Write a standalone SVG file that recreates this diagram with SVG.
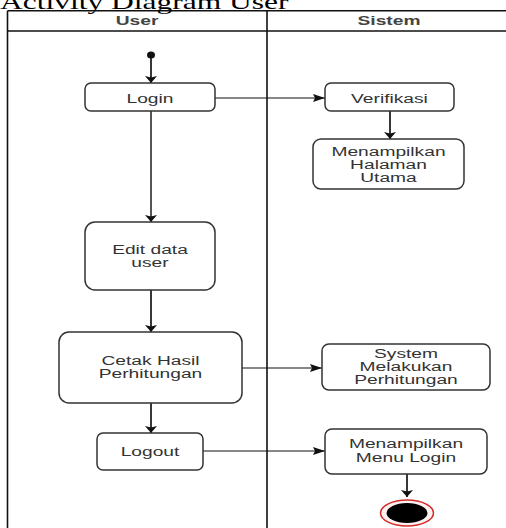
<svg xmlns="http://www.w3.org/2000/svg" width="506" height="528" viewBox="0 0 506 528">
<style>
.lane{stroke:#111;stroke-width:1.6;fill:none}
.box{fill:#fff;stroke:#333;stroke-width:1.5}
.lbl{font-family:"Liberation Sans",Arial,sans-serif;font-size:12px;fill:#333;text-anchor:middle}
.hdr{font-family:"Liberation Sans",Arial,sans-serif;font-size:12px;font-weight:bold;fill:#444;text-anchor:middle}
.title{font-family:"Liberation Serif","Times New Roman",serif;font-size:21px;fill:#000}
.edge{stroke:#111;stroke-width:1.2;fill:none}
.edgeV{stroke:#222;stroke-width:1.8;fill:none}
</style>
<defs>
<marker id="arrowH" markerUnits="userSpaceOnUse" markerWidth="13" markerHeight="9" refX="12" refY="4" orient="auto">
<path d="M0,0 L12,4 L0,8 L2,4 Z" fill="#111"/>
</marker>
<marker id="arrowV" markerUnits="userSpaceOnUse" markerWidth="8" markerHeight="13" refX="7" refY="6" orient="auto">
<path d="M0,0 L7,6 L0,12 L1.5,6 Z" fill="#111"/>
</marker>
</defs>
<rect width="506" height="528" fill="#fff"/>
<text class="title" transform="translate(0,9) scale(1.5,1)">Activity Diagram User</text>
<g id="swimlanes">
<line class="lane" x1="7.5" y1="10.7" x2="506" y2="10.7"/>
<line class="lane" x1="7.5" y1="31" x2="506" y2="31"/>
<line class="lane" x1="7.5" y1="10.7" x2="7.5" y2="528"/>
<line class="lane" x1="267" y1="10.7" x2="267" y2="528"/>
<text class="hdr" transform="translate(137,25) scale(1.6,1)">User</text>
<text class="hdr" transform="translate(389,25) scale(1.6,1)">Sistem</text>
</g>
<g id="connectors">
<line class="edgeV" x1="151" y1="57" x2="151" y2="83" marker-end="url(#arrowV)"/>
<line class="edge" x1="215" y1="98" x2="325" y2="98" marker-end="url(#arrowH)"/>
<line class="edgeV" x1="390" y1="111" x2="390" y2="139" marker-end="url(#arrowV)"/>
<line x1="151" y1="111" x2="151" y2="222" stroke="#555" stroke-width="2" marker-end="url(#arrowV)"/>
<line class="edgeV" x1="151" y1="290" x2="151" y2="332" marker-end="url(#arrowV)"/>
<line class="edge" x1="242" y1="368" x2="322" y2="368" marker-end="url(#arrowH)"/>
<line class="edgeV" x1="151" y1="403" x2="151" y2="433" marker-end="url(#arrowV)"/>
<line class="edge" x1="203" y1="451" x2="325" y2="451" marker-end="url(#arrowH)"/>
<line class="edgeV" x1="407" y1="474" x2="407" y2="497" marker-end="url(#arrowV)"/>
</g>
<g id="start">
<ellipse cx="151" cy="55" rx="4" ry="3.5" fill="#111"/>
</g>
<g id="login">
<rect class="box" x="85" y="83" width="130" height="28" rx="6"/>
<text class="lbl" transform="translate(150,102.5) scale(1.6,1)">Login</text>
</g>
<g id="verifikasi">
<rect class="box" x="325" y="83" width="129" height="28" rx="6"/>
<text class="lbl" transform="translate(389.5,102.5) scale(1.6,1)">Verifikasi</text>
</g>
<g id="halaman-utama">
<rect class="box" x="313" y="139" width="151" height="50" rx="8"/>
<text class="lbl" transform="translate(388.5,155.5) scale(1.6,1)"><tspan x="0" y="0">Menampilkan</tspan><tspan x="0" y="13.2">Halaman</tspan><tspan x="0" y="26.4">Utama</tspan></text>
</g>
<g id="edit-data">
<rect class="box" x="85" y="222" width="130" height="68" rx="10"/>
<text class="lbl" transform="translate(150,253.5) scale(1.6,1)"><tspan x="0" y="0">Edit data</tspan><tspan x="0" y="13.5">user</tspan></text>
</g>
<g id="cetak">
<rect class="box" x="59" y="332" width="183" height="71" rx="10"/>
<text class="lbl" transform="translate(150.5,365) scale(1.6,1)"><tspan x="0" y="0">Cetak Hasil</tspan><tspan x="0" y="13.5">Perhitungan</tspan></text>
</g>
<g id="system-hitung">
<rect class="box" x="322" y="344" width="168" height="46" rx="7"/>
<text class="lbl" transform="translate(406,357.5) scale(1.6,1)"><tspan x="0" y="0">System</tspan><tspan x="0" y="13.2">Melakukan</tspan><tspan x="0" y="26.4">Perhitungan</tspan></text>
</g>
<g id="logout">
<rect class="box" x="97" y="433" width="106" height="37" rx="6"/>
<text class="lbl" transform="translate(150,456) scale(1.6,1)">Logout</text>
</g>
<g id="menu-login">
<rect class="box" x="325" y="429" width="162" height="45" rx="7"/>
<text class="lbl" transform="translate(406,448) scale(1.6,1)"><tspan x="0" y="0">Menampilkan</tspan><tspan x="0" y="14.4">Menu Login</tspan></text>
</g>
<g id="end">
<ellipse cx="407" cy="513" rx="26.5" ry="13" fill="#fff0f0" stroke="#d42a2a" stroke-width="1.5"/>
<ellipse cx="407" cy="513" rx="20.5" ry="10" fill="#000"/>
</g>
</svg>
